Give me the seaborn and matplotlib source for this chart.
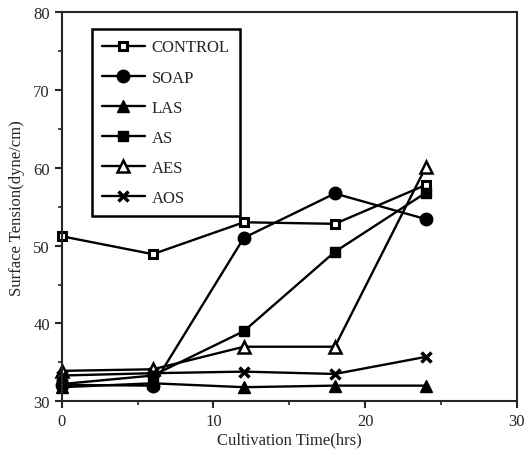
import pandas as pd
import matplotlib
matplotlib.use('Agg')
import matplotlib.pyplot as plt
import seaborn as sns

# 배양 시간 (hrs)
hours = [0, 6, 12, 18, 24]

# 각 계면활성제별 표면장력 (dyne/cm)
control = [51.2, 48.9, 53.0, 52.8, 57.8]
soap = [32.1, 32.0, 51.0, 56.7, 53.4]
las = [31.8, 32.3, 31.8, 32.0, 32.0]
as_ = [32.2, 33.3, 39.0, 49.2, 56.8]
aes = [33.9, 34.1, 37.0, 37.0, 60.1]
aos = [33.3, 33.6, 33.8, 33.5, 35.7]

names = ['CONTROL', 'SOAP', 'LAS', 'AS', 'AES', 'AOS']
values = [control, soap, las, as_, aes, aos]

# 마커 스타일
styles = {
    'CONTROL': dict(marker='s', ms=6, mfc='white', mew=2.2),
    'SOAP': dict(marker='o', ms=9, mfc='black', mew=1),
    'LAS': dict(marker='^', ms=9, mfc='black', mew=1),
    'AS': dict(marker='s', ms=7, mfc='black', mew=1),
    'AES': dict(marker='^', ms=9, mfc='white', mew=1.8),
    'AOS': dict(marker='x', ms=7, mfc='black', mew=2.5),
}

df = pd.DataFrame({'hours': hours * len(names),
                   'tension': sum(values, []),
                   'series': [n for n in names for _ in hours]})

sns.set_style('ticks')
plt.rcParams['font.family'] = ['Liberation Serif', 'DejaVu Serif']

fig = plt.figure(figsize=(5.28, 4.56), dpi=100)
ax = fig.add_axes([0.117, 0.118, 0.862, 0.853])

for name in names:
    sub = df[df['series'] == name]
    sns.lineplot(data=sub, x='hours', y='tension', ax=ax, color='black',
                 lw=1.7, mec='black', label=name, clip_on=False,
                 **styles[name])

ax.set_xlim(0, 30)
ax.set_ylim(30, 80)
ax.set_xticks([0, 10, 20, 30])
ax.set_yticks([30, 40, 50, 60, 70, 80])
ax.set_xticks([5, 15, 25], minor=True)
ax.set_yticks([35, 45, 55, 65, 75], minor=True)
ax.tick_params(which='major', direction='out', length=5, width=1.5, labelsize=12)
ax.tick_params(which='minor', direction='out', length=3, width=1.2)
for s in ax.spines.values():
    s.set_linewidth(1.5)
    s.set_visible(True)

ax.set_xlabel('Cultivation Time(hrs)', fontsize=12, labelpad=2)
ax.set_ylabel('Surface Tension(dyne/cm)', fontsize=12, labelpad=6)

leg = ax.legend(loc='upper left', bbox_to_anchor=(0.066, 0.956), frameon=True,
                fancybox=False, edgecolor='black', framealpha=1, fontsize=12,
                labelspacing=0.85, handlelength=2.6, borderpad=0.6,
                handletextpad=0.4, borderaxespad=0)
leg.get_frame().set_linewidth(1.8)

fig.savefig('out.png', dpi=100)
